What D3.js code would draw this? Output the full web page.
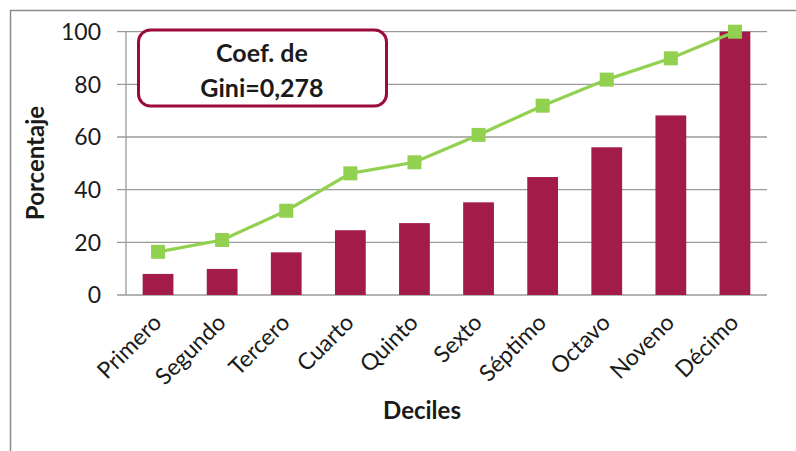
<!DOCTYPE html>
<meta charset="utf-8">
<style>
body { margin: 0; background: #fff; }
text { font-family: Lato, "Open Sans", sans-serif; fill: #1a1a1a; }
.grid line { stroke: #9a9a9a; stroke-width: 1.3px; }
</style>
<svg width="796" height="451"></svg>
<script src="https://cdn.jsdelivr.net/npm/d3@7"></script>
<script>

var deciles = ["Primero", "Segundo", "Tercero", "Cuarto", "Quinto", "Sexto", "Séptimo", "Octavo", "Noveno", "Décimo"];
var barValues = [8.0, 9.9, 16.2, 24.6, 27.3, 35.2, 44.8, 56.1, 68.2, 100];
var lineValues = [16.4, 20.9, 32.0, 46.2, 50.4, 60.8, 71.9, 81.8, 89.9, 100];
var yTicks = [0, 20, 40, 60, 80, 100];
var giniLines = ["Coef. de", "Gini=0,278"];

var svg = d3.select("svg");

// outer frame (only top and left visible)
svg.append("path")
    .attr("d", "M10.5,451V10.5H796")
    .attr("fill", "none")
    .attr("stroke", "#8c8c8c")
    .attr("stroke-width", 1.5);

var plotLeft = 126, plotRight = 767, plotTop = 31.7, plotBottom = 295;

var x = d3.scaleBand()
    .domain(deciles)
    .range([plotLeft, plotRight])
    .paddingInner(0.52)
    .paddingOuter(0.26);

var y = d3.scaleLinear()
    .domain([0, 100])
    .range([plotBottom, plotTop]);

// gridlines + tick labels
var grid = svg.append("g").attr("class", "grid");
grid.selectAll("line")
    .data(yTicks)
  .enter().append("line")
    .attr("x1", plotLeft - 9)
    .attr("x2", plotRight)
    .attr("y1", function(d) { return y(d); })
    .attr("y2", function(d) { return y(d); });

svg.append("line")
    .attr("x1", plotLeft).attr("x2", plotLeft)
    .attr("y1", y(100)).attr("y2", y(0))
    .attr("stroke", "#9a9a9a")
    .attr("stroke-width", 1.3);

svg.selectAll(".ytick")
    .data(yTicks)
  .enter().append("text")
    .attr("class", "ytick")
    .attr("x", 101)
    .attr("y", function(d) { return y(d); })
    .attr("dy", "0.36em")
    .attr("text-anchor", "end")
    .style("font-size", "23px")
    .text(function(d) { return d; });

// bars
svg.selectAll(".bar")
    .data(barValues)
  .enter().append("rect")
    .attr("class", "bar")
    .attr("x", function(d, i) { return x(deciles[i]); })
    .attr("width", x.bandwidth())
    .attr("y", function(d) { return y(d); })
    .attr("height", function(d) { return y(0) - y(d); })
    .attr("fill", "#a31b49");

// line
var cx = function(i) { return x(deciles[i]) + x.bandwidth() / 2; };
var line = d3.line()
    .x(function(d, i) { return cx(i); })
    .y(function(d) { return y(d); });

svg.append("path")
    .datum(lineValues)
    .attr("d", line)
    .attr("fill", "none")
    .attr("stroke", "#92d050")
    .attr("stroke-width", 3.2);

svg.selectAll(".marker")
    .data(lineValues)
  .enter().append("rect")
    .attr("class", "marker")
    .attr("x", function(d, i) { return cx(i) - 7; })
    .attr("y", function(d) { return y(d) - 7; })
    .attr("width", 14)
    .attr("height", 14)
    .attr("fill", "#92d050");

// x labels
svg.selectAll(".xlab")
    .data(deciles)
  .enter().append("text")
    .attr("class", "xlab")
    .attr("text-anchor", "end")
    .attr("transform", function(d) {
      return "translate(" + (x(d) + x.bandwidth() / 2 + 5) + ",324) rotate(-45)";
    })
    .style("font-size", "23px")
    .text(function(d) { return d; });

// axis titles
svg.append("text")
    .attr("x", 422)
    .attr("y", 419)
    .attr("text-anchor", "middle")
    .style("font-size", "24px")
    .style("font-weight", "bold")
    .text("Deciles");

svg.append("text")
    .attr("transform", "translate(44,163) rotate(-90)")
    .attr("text-anchor", "middle")
    .style("font-size", "24px")
    .style("font-weight", "bold")
    .text("Porcentaje");

// gini box
svg.append("rect")
    .attr("x", 138.5).attr("y", 30)
    .attr("width", 248).attr("height", 76)
    .attr("rx", 12)
    .attr("fill", "#fff")
    .attr("stroke", "#9b0a3c")
    .attr("stroke-width", 3);

svg.selectAll(".gini")
    .data(giniLines)
  .enter().append("text")
    .attr("class", "gini")
    .attr("x", 262)
    .attr("y", function(d, i) { return 62 + i * 35; })
    .attr("text-anchor", "middle")
    .style("font-size", "25px")
    .style("font-weight", "bold")
    .text(function(d) { return d; });

</script>
